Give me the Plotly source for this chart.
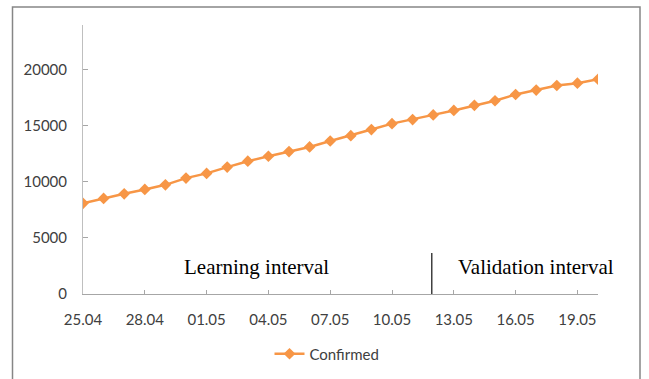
import plotly.graph_objects as go

dates = ["25.04", "26.04", "27.04", "28.04", "29.04", "30.04", "01.05", "02.05",
         "03.05", "04.05", "05.05", "06.05", "07.05", "08.05", "09.05", "10.05",
         "11.05", "12.05", "13.05", "14.05", "15.05", "16.05", "17.05", "18.05",
         "19.05", "20.05"]
confirmed = [8090, 8530, 8940, 9330, 9740, 10340, 10760, 11320, 11850, 12290,
             12710, 13120, 13650, 14130, 14670, 15200, 15560, 15980, 16380, 16830,
             17240, 17800, 18190, 18600, 18810, 19160]
y_ticks = [0, 5000, 10000, 15000, 20000]
y_tick_labels = ["0", "5000", "10000", "15000", "20000"]
series_name = "Confirmed"

W, H = 649, 379
L, R, T, B = 83, 598, 25, 294
x_idx = list(range(len(dates)))
tick_idx = x_idx[::3]

def px(x):
    return (x - L) / (R - L)

def py(y):
    return (B - y) / (B - T)

fig = go.Figure()
fig.add_trace(go.Scatter(
    x=x_idx, y=confirmed, mode="lines+markers", name=series_name,
    line=dict(color="#F79646", width=2.5),
    marker=dict(symbol="diamond", size=9, color="#F79646"),
))

fig.update_layout(
    width=W, height=H,
    margin=dict(l=L, r=W - R, t=T, b=H - B, pad=0, autoexpand=False),
    paper_bgcolor="white", plot_bgcolor="white",
    font=dict(family="Lato", size=15, color="#404040"),
    showlegend=True,
    legend=dict(orientation="h", x=px(327), y=py(354), xanchor="center", yanchor="middle",
                font=dict(family="Lato", size=15, color="#404040")),
    xaxis=dict(range=[0, 25], tickmode="array", tickvals=tick_idx,
               ticktext=[dates[i] for i in tick_idx], automargin=False,
               showline=True, linecolor="#A6A6A6", linewidth=1,
               ticks="inside", ticklen=4, tickcolor="#A6A6A6",
               showgrid=False, zeroline=False, ticklabelstandoff=12),
    yaxis=dict(range=[0, 24000], tickmode="array", tickvals=y_ticks,
               ticktext=y_tick_labels, automargin=False,
               showline=True, linecolor="#BFBFBF", linewidth=1,
               ticks="inside", ticklen=5, tickcolor="#A6A6A6",
               showgrid=False, zeroline=False, ticklabelstandoff=12),
)

# outer chart frame
fig.add_shape(type="rect", xref="paper", yref="paper",
              x0=px(12.5), x1=px(640), y0=py(390), y1=py(7),
              line=dict(color="#868686", width=1.5), layer="below")

# divider between learning and validation intervals
fig.add_shape(type="line", xref="x", yref="y", x0=16.93, x1=16.93, y0=0, y1=3650,
              line=dict(color="#404040", width=1.5))

fig.add_annotation(x=px(256), y=py(267), xref="paper", yref="paper",
                   xanchor="center", yanchor="middle",
                   text="Learning interval", showarrow=False,
                   font=dict(family="Liberation Serif", size=21, color="#000000"))
fig.add_annotation(x=px(536), y=py(267), xref="paper", yref="paper",
                   xanchor="center", yanchor="middle",
                   text="Validation interval", showarrow=False,
                   font=dict(family="Liberation Serif", size=21, color="#000000"))

fig.write_html("out.html", config={"displayModeBar": False},
               post_script="document.body.style.margin='0';document.body.style.overflow='hidden';")
